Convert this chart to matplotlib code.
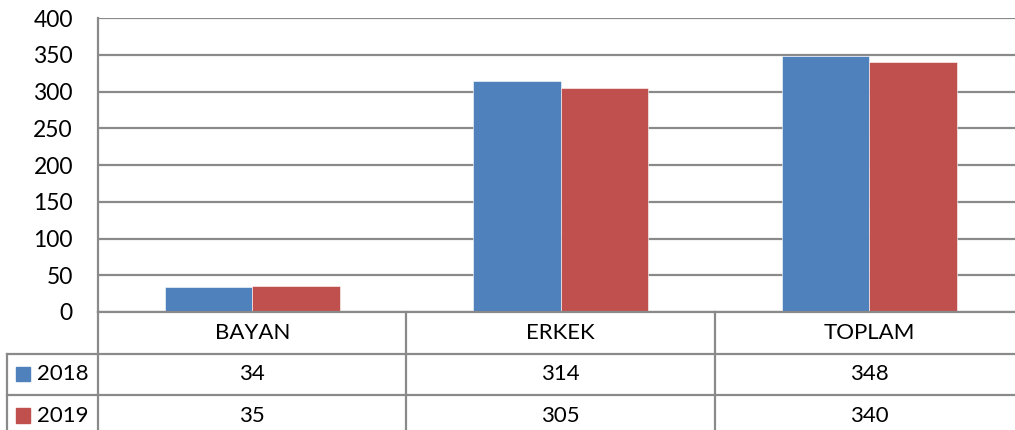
import numpy as np
import matplotlib.pyplot as plt

# data
categories = ['BAYAN', 'ERKEK', 'TOPLAM']
series_names = ['2018', '2019']
values_2018 = [34, 314, 348]
values_2019 = [35, 305, 340]
colors = ['#4F81BD', '#C0504D']
yticks = [0, 50, 100, 150, 200, 250, 300, 350, 400]

plt.rcParams['font.family'] = ['Lato', 'DejaVu Sans']
grid_c = '#8a8a8a'

W, H = 1015, 430
fig = plt.figure(figsize=(W / 100, H / 100), dpi=100)

# plot area in pixels: left 98, right 1023.5, top 18, bottom 312
left, right, top, bottom = 98, 1023.5, 18, 312
ax = fig.add_axes([left / W, 1 - bottom / H, (right - left) / W, (bottom - top) / H])

x = np.arange(len(categories))
w = 0.284
ax.bar(x - w / 2, values_2018, w, color=colors[0], edgecolor='#ffffff', linewidth=0.4, zorder=3)
ax.bar(x + w / 2, values_2019, w, color=colors[1], edgecolor='#ffffff', linewidth=0.4, zorder=3)

ax.set_xlim(-0.5, len(categories) - 0.5)
ax.set_ylim(0, 400)
ax.set_yticks(yticks)
ax.set_yticklabels([str(t) for t in yticks], fontsize=16.5)
ax.tick_params(axis='y', length=0, pad=18)
ax.set_xticks([])
ax.grid(axis='y', color=grid_c, linewidth=1.6, zorder=0)
for s in ['top', 'right', 'bottom']:
    ax.spines[s].set_visible(False)
ax.spines['left'].set_color(grid_c)
ax.spines['left'].set_linewidth(1.6)

# data table below the plot
row_h = 41.5
tleft = 7
unit = (right - left) / len(categories)
tax = fig.add_axes([tleft / W, 1 - (bottom + 3 * row_h) / H, (right - tleft) / W, 3 * row_h / H])
tax.set_xlim(-0.5 - (left - tleft) / unit, len(categories) - 0.5)
tax.set_ylim(3, 0)
tax.axis('off')
x0 = -0.5 - (left - tleft) / unit

lw = 1.6
# horizontal lines
tax.plot([-0.5, len(categories) - 0.5], [0, 0], color=grid_c, lw=lw, clip_on=False)
for r in [1, 2, 3]:
    tax.plot([x0, len(categories) - 0.5], [r, r], color=grid_c, lw=lw, clip_on=False)
# vertical lines
for b in np.arange(len(categories) + 1) - 0.5:
    tax.plot([b, b], [0, 3], color=grid_c, lw=lw, clip_on=False)
tax.plot([x0, x0], [1, 3], color=grid_c, lw=lw, clip_on=False)

for i, c in enumerate(categories):
    tax.text(i, 0.5, c, ha='center', va='center', fontsize=16)
    tax.text(i, 1.5, str(values_2018[i]), ha='center', va='center', fontsize=16)
    tax.text(i, 2.5, str(values_2019[i]), ha='center', va='center', fontsize=16)

# legend keys inside the table's first column
for r, (name, col) in enumerate(zip(series_names, colors)):
    fy = 1 - (bottom + (r + 1.5) * row_h) / H
    fig.patches.append(plt.Rectangle((16 / W, fy - 7 / H), 14.5 / W, 14.5 / H,
                                     transform=fig.transFigure, color=col))
    fig.text(37 / W, fy, name, ha='left', va='center', fontsize=16)

fig.savefig('out.png', dpi=100)
